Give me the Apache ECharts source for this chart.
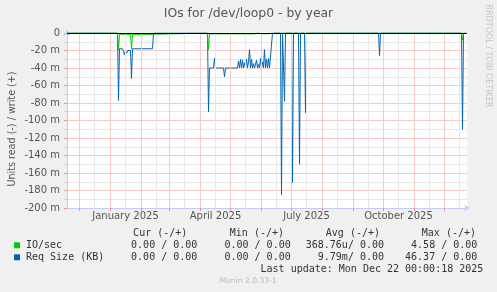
<!DOCTYPE html>
<html><head><meta charset="utf-8">
<script src="https://cdn.jsdelivr.net/npm/echarts@6/dist/echarts.min.js"></script>
<style>html,body{margin:0;padding:0;background:#F0F0F0;}#c{width:497px;height:292px;}</style>
</head><body><div id="c"></div>
<script>
// ---------- data (values in milli-units, negative = read) ----------
const titleText = 'IOs for /dev/loop0 - by year';
const yAxisName = 'Units read (-) / write (+)';
const seriesNames = ['IO/sec', 'Req Size (KB)'];
const seriesColors = ['#00CC00', '#0066B3'];

const ioDates = ['2024-11-19','2025-01-08','2025-01-09','2025-01-10','2025-01-21','2025-01-22','2025-01-23','2025-02-12','2025-02-13',
  '2025-04-08','2025-04-09','2025-04-10','2025-05-25','2025-05-26','2025-05-28','2025-05-29','2025-06-03','2025-06-04',
  '2025-06-20','2025-06-21','2025-06-22','2025-07-08','2025-07-09','2025-07-10','2025-09-26','2025-09-27','2025-09-28',
  '2025-12-18','2025-12-19','2025-12-20','2025-12-22'];
const ioValues = [0,0,-19,-1.5,-1.5,-18,-1.5,-1.5,0,
  0,-19,-1,-1,0,0,-1,-1,0,
  0,-1.5,0,0,-1.5,0,0,-1,0,
  0,-8,0,0];

const reqDates = ['2024-11-19','2025-01-08','2025-01-09','2025-01-10','2025-01-13','2025-01-14','2025-01-15','2025-01-16','2025-01-17',
  '2025-01-18','2025-01-19','2025-01-20','2025-01-21','2025-01-22','2025-01-23','2025-02-12','2025-02-13',
  '2025-04-08','2025-04-09','2025-04-10','2025-04-14','2025-04-15','2025-04-16','2025-04-17','2025-04-18','2025-04-19',
  '2025-04-24','2025-04-25','2025-04-26','2025-05-08','2025-05-09','2025-05-10','2025-05-11','2025-05-12','2025-05-13',
  '2025-05-14','2025-05-15','2025-05-16','2025-05-17','2025-05-18','2025-05-19','2025-05-20','2025-05-21','2025-05-22',
  '2025-05-23','2025-05-24','2025-05-25','2025-05-26','2025-05-27','2025-05-28','2025-05-29','2025-05-30','2025-05-31',
  '2025-06-01','2025-06-02','2025-06-03','2025-06-04','2025-06-05','2025-06-06','2025-06-07','2025-06-08','2025-06-09',
  '2025-06-11','2025-06-12','2025-06-20','2025-06-21','2025-06-22','2025-06-23','2025-06-24','2025-06-25',
  '2025-07-01','2025-07-02','2025-07-03','2025-07-08','2025-07-09','2025-07-10','2025-07-14','2025-07-15','2025-07-16',
  '2025-09-26','2025-09-27','2025-09-28','2025-12-18','2025-12-19','2025-12-20','2025-12-22'];
const reqValues = [0,0,-77,-18,-18,-21,-25,-20,-23,
  -20,-22,-19,-20,-52,-18,-18,0,
  0,-90,-40,-40,-29,-40,-40,-42,-40,
  -40,-50,-40,-40,-32,-40,-30,-40,-31,
  -40,-34,-40,-30,-40,-33,-19,-40,-30,
  -40,-35,-40,-40,-31,-40,-36,-40,-29,
  -40,-33,-40,-19,-40,-30,-40,-29,-40,
  -40,0,0,-185,0,0,-78,0,
  0,-171,0,0,-150,0,0,-91,0,
  0,-26,0,0,-110,0,0];

const xStart = '2024-11-18 12:00';
const xEnd = '2025-12-23 12:00';
const monthStarts = ['2024-12-01','2025-01-01','2025-02-01','2025-03-01','2025-04-01','2025-05-01','2025-06-01',
  '2025-07-01','2025-08-01','2025-09-01','2025-10-01','2025-11-01','2025-12-01'];
const midMonths = ['2024-12-16','2025-01-16','2025-02-16','2025-03-16','2025-04-16','2025-05-16','2025-06-16',
  '2025-07-16','2025-08-16','2025-09-16','2025-10-16','2025-11-16','2025-12-16'];
const labelDates = ['2025-01-16','2025-04-16','2025-07-16','2025-10-16'];
const labelTexts = ['January 2025','April 2025','July 2025','October 2025'];

const legendHeaders = ['Cur (-/+)','Min (-/+)','Avg (-/+)','Max (-/+)'];
const ioStats = ['0.00 / 0.00','0.00 / 0.00','368.76u/ 0.00','4.58 / 0.00'];
const reqStats = ['0.00 / 0.00','0.00 / 0.00','9.79m/ 0.00','46.37 / 0.00'];
const lastUpdate = 'Last update: Mon Dec 22 00:00:18 2025';
const footer = 'Munin 2.0.33-1';
const sideText = 'RRDTOOL / TOBI OETIKER';

// ---------- chart ----------
const RED = '#F8CACA', RED_TICK = '#EE9090', GREY = '#E8E8E8', AXIS = '#C6CCF6', TXT = '#555555';
const ts = s => { const [d, t] = s.split(' '); const p = d.split('-'); const h = t ? +t.split(':')[0] : 0;
  return new Date(+p[0], +p[1]-1, +p[2], h).getTime(); };
const labelTs = labelDates.map(ts);

const headerX = [187.3, 284, 380, 476];
const valueX = [197.3, 290.7, 384, 477.3];
const mono = '10px "DejaVu Sans Mono"';
const graphics = [];
legendHeaders.forEach((t,i)=>graphics.push({type:'text', x:headerX[i], y:233.3, style:{text:t, font:mono, fill:'#333', align:'right', verticalAlign:'middle'}}));
ioStats.forEach((t,i)=>graphics.push({type:'text', x:valueX[i], y:245.3, style:{text:t, font:mono, fill:'#333', align:'right', verticalAlign:'middle'}}));
reqStats.forEach((t,i)=>graphics.push({type:'text', x:valueX[i], y:257.3, style:{text:t, font:mono, fill:'#333', align:'right', verticalAlign:'middle'}}));
graphics.push({type:'text', x:483.3, y:269.7, style:{text:lastUpdate, font:mono, fill:'#333', align:'right', verticalAlign:'middle'}});
graphics.push({type:'text', x:248, y:281, style:{text:footer, font:'7.6px "DejaVu Sans"', fill:'#BBBBBB', align:'center', verticalAlign:'middle'}});
graphics.push({type:'text', x:488.5, y:56, rotation:-Math.PI/2, style:{text:sideText, font:'8px "DejaVu Sans"', fill:'#C4C4C4', align:'center', verticalAlign:'middle'}});
graphics.push({type:'text', x:12, y:129, rotation:Math.PI/2, style:{text:yAxisName, font:'9.6px "DejaVu Sans"', fill:TXT, align:'center', verticalAlign:'middle'}});
graphics.push({type:'text', x:248.5, y:13.3, style:{text:titleText, font:'12.4px "DejaVu Sans"', fill:TXT, align:'center', verticalAlign:'middle'}});

const vGrid = (dates, color, z) => ({type:'line', data:[], z:z, silent:true,
  markLine:{silent:true, symbol:'none', animation:false, label:{show:false}, lineStyle:{color:color, width:1, type:'solid'},
    data:dates.map(d=>({xAxis:ts(d)}))}});

const chart = echarts.init(document.getElementById('c'), null, {renderer:'canvas'});
chart.setOption({
  animation:false,
  backgroundColor:'#F0F0F0',
  grid:{left:67, right:30, top:33, bottom:84, show:true, backgroundColor:'#FFFFFF', borderWidth:0},
  legend:{data:seriesNames, orient:'vertical', left:14, top:239.3, padding:0, itemWidth:6, itemHeight:6, itemGap:0, icon:'rect', selectedMode:false,
    textStyle:{fontFamily:'DejaVu Sans Mono', fontSize:10, color:'#333', lineHeight:12, padding:[0,0,0,1]}},
  xAxis:{
    type:'value', min:ts(xStart), max:ts(xEnd), position:'bottom',
    axisLine:{show:true, onZero:false, lineStyle:{color:AXIS}, symbol:['none','arrow'], symbolSize:[5,6], symbolOffset:[0,3]},
    axisTick:{show:true, customValues:monthStarts.map(ts), length:3, lineStyle:{color:RED_TICK}},
    axisLabel:{customValues:labelTs, fontFamily:'DejaVu Sans', fontSize:10, color:TXT, margin:3, hideOverlap:false,
      formatter:(v)=>{ let best=0; labelTs.forEach((t,i)=>{ if(Math.abs(t-v)<Math.abs(labelTs[best]-v)) best=i; }); return labelTexts[best]; }},
    splitLine:{show:false}
  },
  yAxis:{
    type:'value', min:-200, max:0, interval:20,
    axisLine:{show:true, lineStyle:{color:AXIS}, symbol:['none','arrow'], symbolSize:[5,6], symbolOffset:[0,3]},
    axisTick:{show:true, length:3, lineStyle:{color:RED_TICK}},
    minorTick:{show:true, splitNumber:2, length:3, lineStyle:{color:'#D0D0D0'}},
    splitLine:{show:true, lineStyle:{color:RED, type:'solid'}},
    minorSplitLine:{show:true, lineStyle:{color:GREY, type:'solid'}},
    axisLabel:{fontFamily:'DejaVu Sans', fontSize:10, color:TXT, margin:7, formatter:v=> v===0 ? '0' : v + ' m'}
  },
  series:[
    vGrid(midMonths, GREY, 1),
    vGrid(monthStarts, RED, 1.5),
    {type:'line', name:seriesNames[1], data:reqDates.map((d,i)=>[ts(d), reqValues[i]]), symbol:'none', color:seriesColors[1],
      lineStyle:{width:1, color:seriesColors[1]}, itemStyle:{color:seriesColors[1]}, z:3},
    {type:'line', name:seriesNames[0], data:ioDates.map((d,i)=>[ts(d), ioValues[i]]), symbol:'none', color:seriesColors[0],
      lineStyle:{width:1, color:seriesColors[0]}, itemStyle:{color:seriesColors[0]}, z:4},
    {type:'line', name:'zero', data:[], z:5, silent:true,
      markLine:{silent:true, symbol:'none', label:{show:false}, lineStyle:{color:'#000', width:1, type:'solid'}, data:[{yAxis:0}]}}
  ],
  graphic:graphics
});
</script></body></html>
